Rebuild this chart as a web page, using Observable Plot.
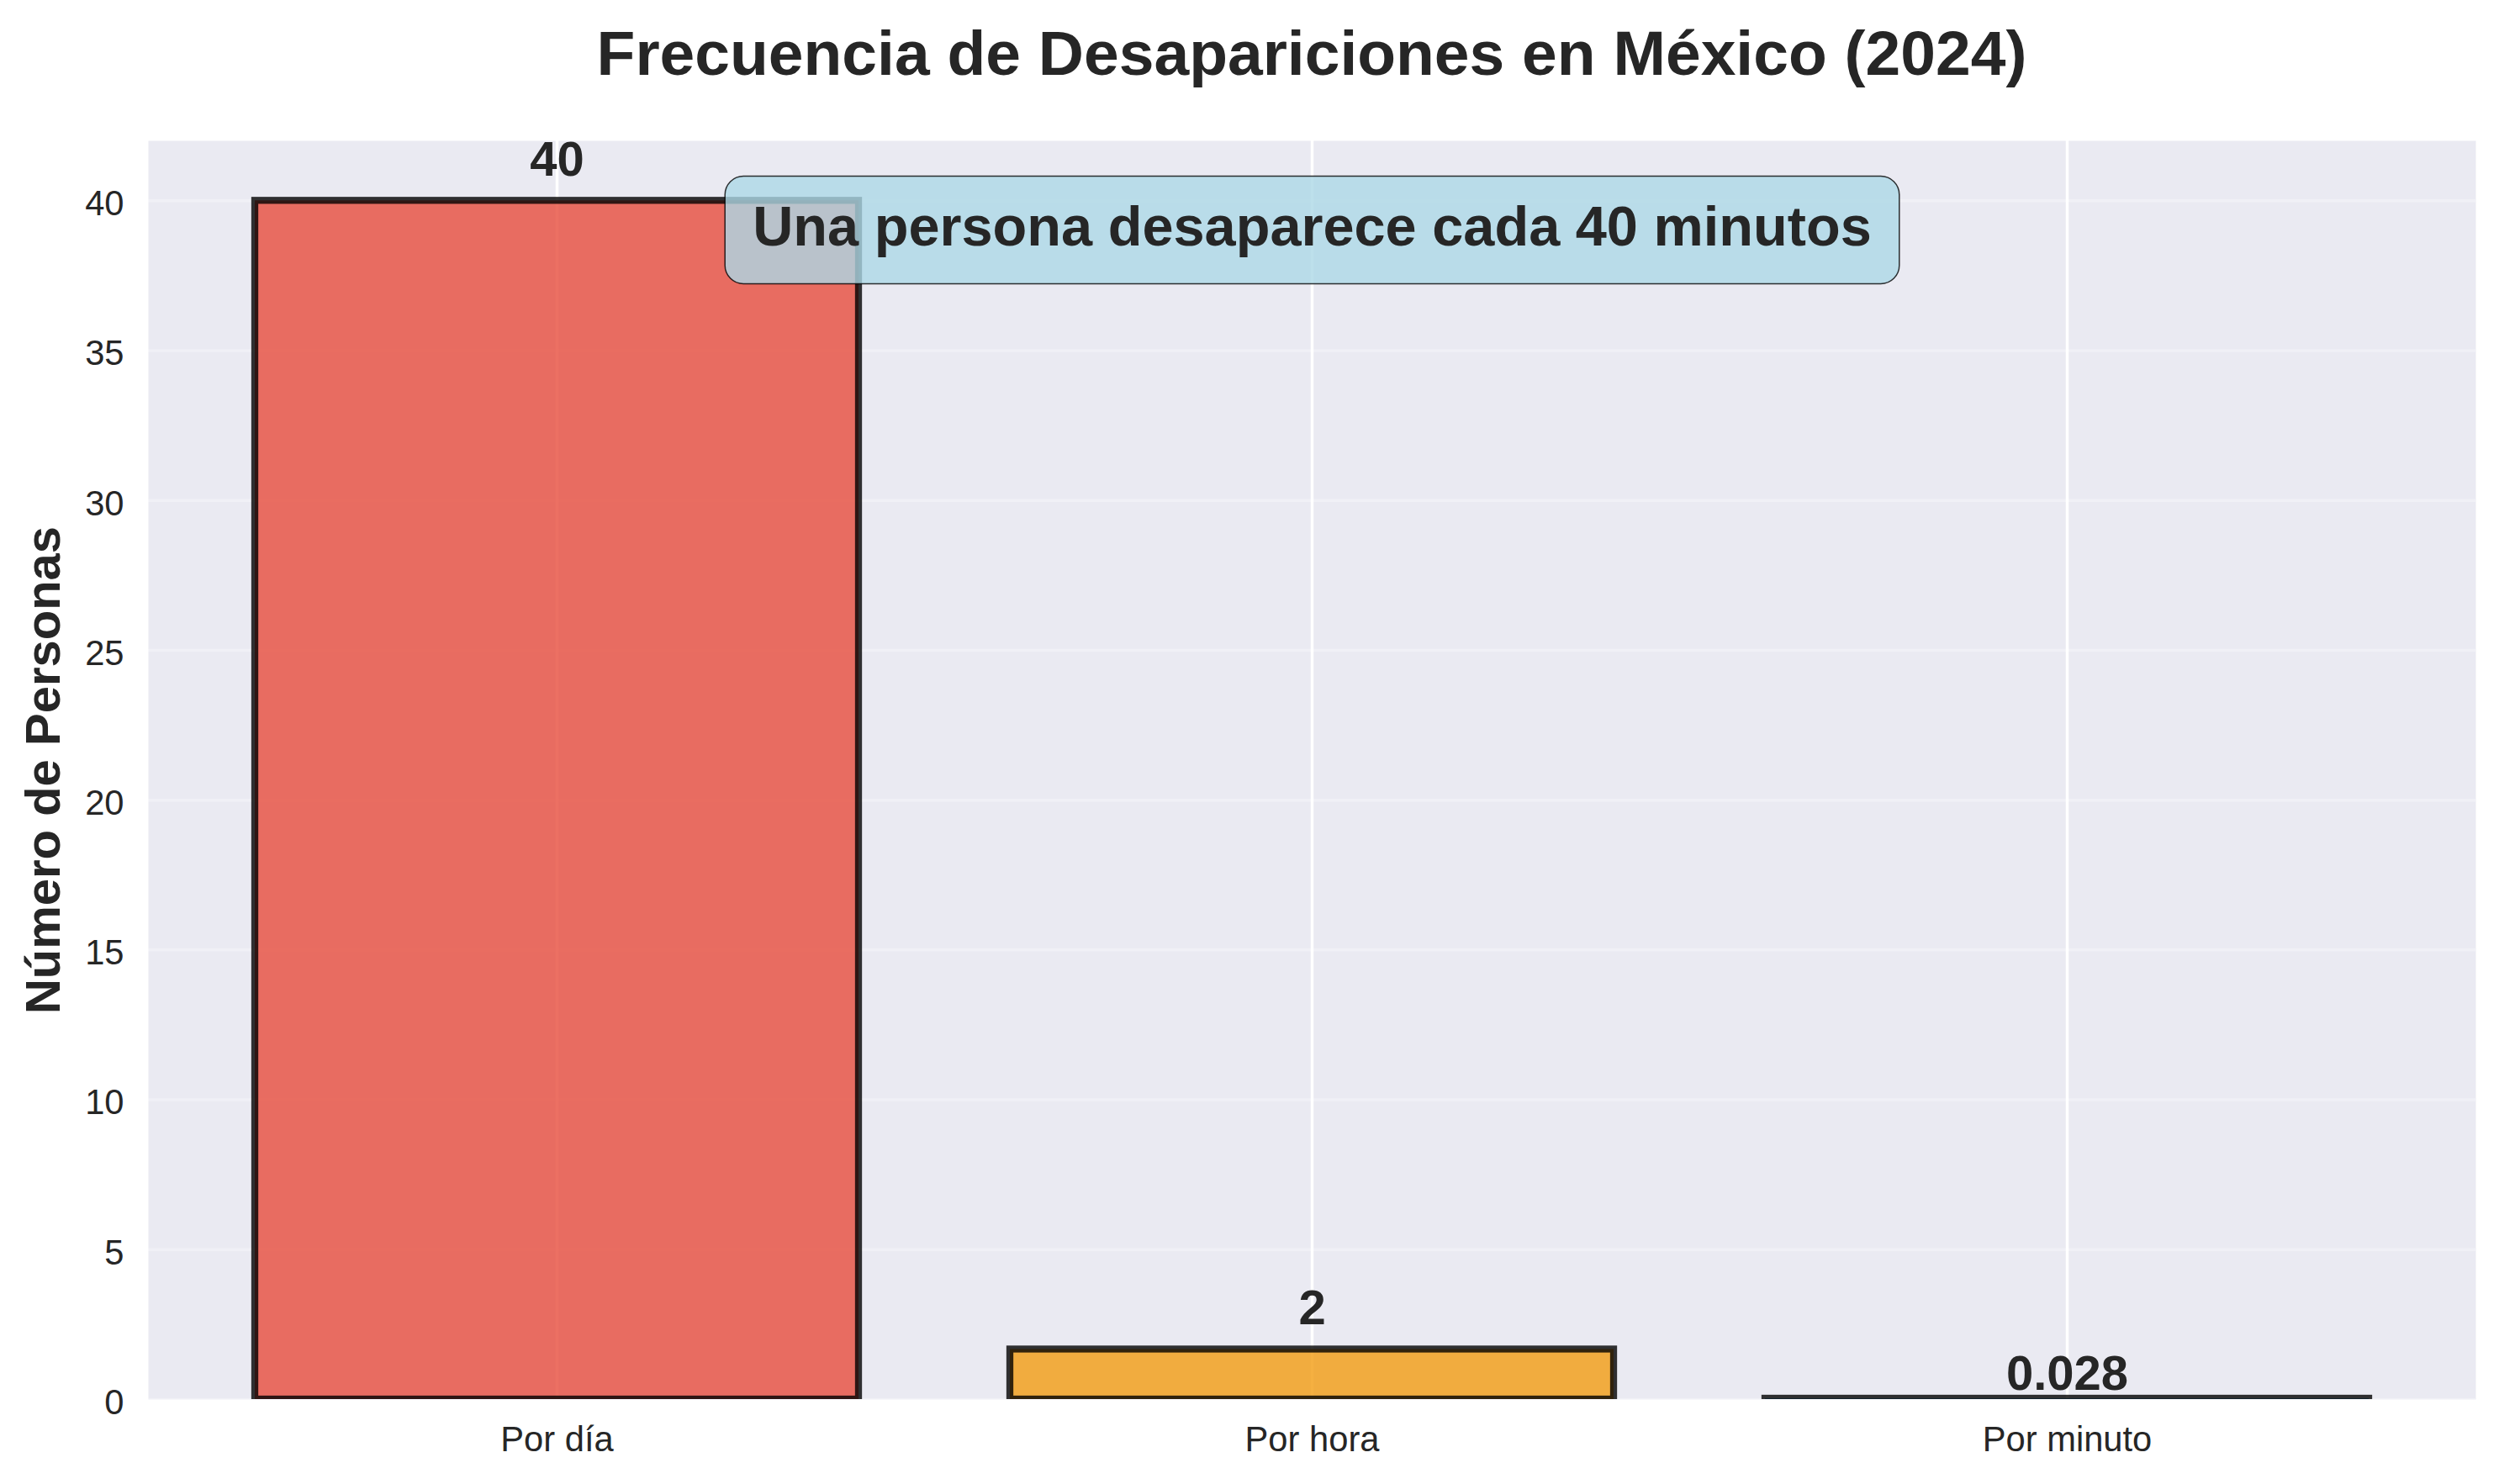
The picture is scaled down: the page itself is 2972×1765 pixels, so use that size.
<!DOCTYPE html>
<html>
<head>
<meta charset="utf-8">
<script src="https://cdn.jsdelivr.net/npm/d3@7"></script>
<script src="https://cdn.jsdelivr.net/npm/@observablehq/plot@0.6"></script>
<style>
  html, body { margin: 0; padding: 0; background: #ffffff; }
  body { width: 2972px; height: 1765px; overflow: hidden; font-family: "Liberation Sans", Arial, sans-serif; }
  #title { margin-left: 176px; width: 2768px; height: 126px; line-height: 126px; text-align: center;
           font-size: 75px; font-weight: bold; color: #262626; white-space: nowrap; }
  #chart svg { display: block; }
</style>
</head>
<body>
<div id="title">Frecuencia de Desapariciones en México (2024)</div>
<div id="chart"></div>
<script>
// ---- data ----
const categories = ["Por día", "Por hora", "Por minuto"];
const values = [40, 1.67, 0.028];
const valueLabels = ["40", "2", "0.028"];
const barColors = ["#e74c3c", "#f39c12", "#3498db"];
const yTicks = [0, 5, 10, 15, 20, 25, 30, 35, 40];
const yDomain = [0, 42];
const yLabel = "Número de Personas";
const annotation = "Una persona desaparece cada 40 minutos";

const rows = categories.map((c, i) => ({cat: c, value: values[i], label: valueLabels[i], color: barColors[i]}));

const font = '"Liberation Sans", Arial, sans-serif';
const ink = "#262626";

const chart = Plot.plot({
  width: 2972,
  height: 1639,
  marginTop: 41,
  marginBottom: 101,
  marginLeft: 176,
  marginRight: 28,
  style: {fontFamily: font, fontSize: "41.7px", color: ink, background: "#ffffff", overflow: "visible"},
  x: {domain: categories, paddingInner: 0.2, paddingOuter: 0.14, label: null, axis: null},
  y: {domain: yDomain, label: null, axis: null},
  color: {type: "identity"},
  marks: [
    Plot.frame({fill: "#EAEAF2", stroke: null}),
    Plot.gridY(yTicks, {stroke: "#ffffff", strokeOpacity: 0.3, strokeWidth: 3.5}),
    Plot.gridX(categories, {stroke: "#ffffff", strokeOpacity: 1, strokeWidth: 3.5}),
    Plot.barY(rows, {x: "cat", y: "value", fill: "color", fillOpacity: 0.8,
                     stroke: "#000000", strokeOpacity: 0.8, strokeWidth: 8.3, clip: true}),
    // value labels: larger bars get a bigger gap above them
    Plot.text(rows.filter(d => d.value >= 1), {x: "cat", y: "value", text: "label", lineAnchor: "bottom", dy: -30,
                     fontWeight: "bold", fontSize: 58, fill: ink}),
    Plot.text(rows.filter(d => d.value < 1), {x: "cat", y: "value", text: "label", lineAnchor: "bottom", dy: -11,
                     fontWeight: "bold", fontSize: 58, fill: ink}),
    Plot.axisX(categories, {tickSize: 0, tickPadding: 32, fontSize: 41.7, label: null, fill: ink}),
    Plot.axisY(yTicks, {tickSize: 0, tickPadding: 29, fontSize: 41.7, label: null, fill: ink, dy: 4}),
    Plot.text([yLabel], {frameAnchor: "left", rotate: -90, lineAnchor: "bottom", textAnchor: "middle", dx: -106,
                         fontWeight: "bold", fontSize: 58, fill: ink}),
    Plot.text([annotation], {frameAnchor: "top", lineAnchor: "bottom", dy: 124,
                             fontWeight: "bold", fontSize: 66.7, fill: ink})
  ]
});

document.getElementById("chart").appendChild(chart);

// rounded box behind the annotation text (like a matplotlib bbox)
const annText = Array.from(chart.querySelectorAll("text")).find(t => t.textContent === annotation);
if (annText) {
  const g = annText.parentNode;
  const r = annText.getBoundingClientRect();
  const s = chart.getBoundingClientRect();
  const padX = 33, padTop = 22, padBottom = 32;
  const rect = document.createElementNS("http://www.w3.org/2000/svg", "rect");
  rect.setAttribute("x", r.left - s.left - padX);
  rect.setAttribute("y", r.top - s.top - padTop);
  rect.setAttribute("width", r.width + 2 * padX);
  rect.setAttribute("height", r.height + padTop + padBottom);
  rect.setAttribute("rx", 22);
  rect.setAttribute("fill", "#ADD8E6");
  rect.setAttribute("fill-opacity", 0.8);
  rect.setAttribute("stroke", "#000000");
  rect.setAttribute("stroke-opacity", 0.8);
  rect.setAttribute("stroke-width", 1.5);
  g.parentNode.insertBefore(rect, g);
}
</script>
</body>
</html>
